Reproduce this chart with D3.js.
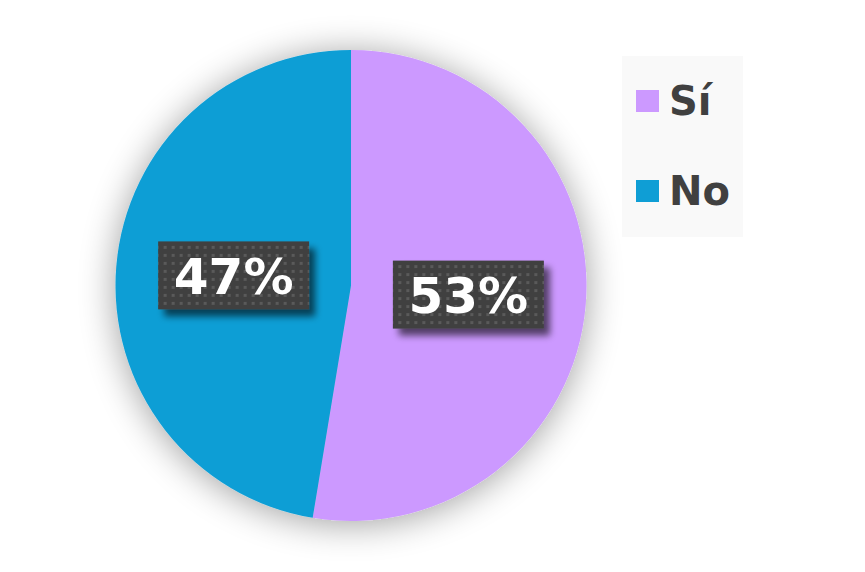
<!DOCTYPE html>
<html><head><meta charset="utf-8">
<script src="https://cdn.jsdelivr.net/npm/d3@7"></script>
<style>body{margin:0;background:#fff}svg{display:block}</style>
</head><body>
<svg id="c" width="865" height="572"></svg>
<script>
const categories = ["Sí", "No"];
const values = [52.6, 47.4];
const colors = ["#cc99ff", "#0f9ed5"];

const svg = d3.select("#c");
const defs = svg.append("defs");
const pf = defs.append("filter").attr("id","pieShadow").attr("x","-40%").attr("y","-40%").attr("width","180%").attr("height","180%");
pf.append("feGaussianBlur").attr("in","SourceAlpha").attr("stdDeviation",18).attr("result","b");
pf.append("feOffset").attr("in","b").attr("dx",0).attr("dy",3).attr("result","o");
pf.append("feComponentTransfer").attr("in","o").attr("result","t").append("feFuncA").attr("type","linear").attr("slope",0.38);
const pm = pf.append("feMerge"); pm.append("feMergeNode").attr("in","t"); pm.append("feMergeNode").attr("in","SourceGraphic");

const lf = defs.append("filter").attr("id","lblShadow").attr("x","-20%").attr("y","-30%").attr("width","150%").attr("height","170%");
lf.append("feGaussianBlur").attr("in","SourceAlpha").attr("stdDeviation",3.5).attr("result","b");
lf.append("feOffset").attr("in","b").attr("dx",6).attr("dy",7).attr("result","o");
lf.append("feComponentTransfer").attr("in","o").attr("result","t").append("feFuncA").attr("type","linear").attr("slope",0.6);
const lm = lf.append("feMerge"); lm.append("feMergeNode").attr("in","t"); lm.append("feMergeNode").attr("in","SourceGraphic");

const pat = defs.append("pattern").attr("id","dots").attr("patternUnits","userSpaceOnUse").attr("width",8).attr("height",8);
pat.append("rect").attr("width",8).attr("height",8).attr("fill","#404040");
pat.append("rect").attr("x",2).attr("y",2).attr("width",3).attr("height",3).attr("fill","#5a5a5a");

const cx = 351, cy = 285.5, r = 235.5;
const total = d3.sum(values);
const fmt = d3.format(".0%");
const pie = d3.pie().sort(null).value(d => d)(values);
const arc = d3.arc().innerRadius(0).outerRadius(r);
const g = svg.append("g").attr("transform",`translate(${cx},${cy})`);
g.append("g").attr("filter","url(#pieShadow)").selectAll("path").data(pie).join("path")
  .attr("d",arc).attr("fill",(d,i)=>colors[i]);

const lblArc = d3.arc().innerRadius(r*0.5).outerRadius(r*0.5);
const lg = g.selectAll("g.lbl").data(pie).join("g").attr("class","lbl")
  .attr("transform",d=>{const c=lblArc.centroid(d);return `translate(${c[0]},${c[1]})`;});
lg.append("rect").attr("x",-75.5).attr("y",-34.5).attr("width",151).attr("height",68)
  .attr("fill","url(#dots)").attr("filter","url(#lblShadow)");
lg.append("text").text(d=>fmt(Math.round(d.value)/100)).attr("text-anchor","middle").attr("y",18)
  .attr("font-family","DejaVu Sans").attr("font-weight","bold").attr("font-size",50).attr("fill","#fff");

const leg = svg.append("g");
leg.append("rect").attr("x",622).attr("y",56).attr("width",121).attr("height",181).attr("fill","#f9f9f9");
const ys = d3.scalePoint().domain(categories).range([101,191]);
const li = leg.selectAll("g.li").data(categories).join("g").attr("class","li")
  .attr("transform",d=>`translate(0,${ys(d)})`);
li.append("rect").attr("x",636).attr("y",-11).attr("width",23).attr("height",22).attr("fill",(d,i)=>colors[i]);
li.append("text").text(d=>d).attr("x",669).attr("y",14)
  .attr("font-family","DejaVu Sans").attr("font-weight","bold").attr("font-size",40).attr("fill","#404040");
</script>
</body></html>
